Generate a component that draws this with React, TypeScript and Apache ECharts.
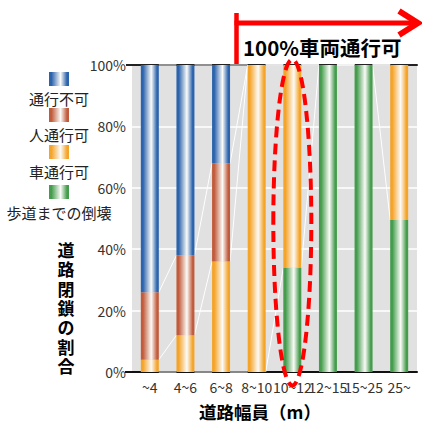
import React, { useEffect, useRef } from "react";
import * as echarts from "echarts";

const categories = ["~4", "4~6", "6~8", "8~10", "10~12", "12~15", "15~25", "25~"];
const collapseToSidewalk = [0, 0, 0, 0, 34, 100, 100, 49.5]; // 歩道までの倒壊
const vehiclePassable = [4, 12, 36, 100, 66, 0, 0, 50.5]; // 車通行可
const pedestrianPassable = [22, 26, 32, 0, 0, 0, 0, 0]; // 人通行可
const impassable = [74, 62, 32, 0, 0, 0, 0, 0]; // 通行不可
const yTicks = [0, 20, 40, 60, 80, 100];

const seriesNames = ["歩道までの倒壊", "車通行可", "人通行可", "通行不可"];
const seriesValues = [collapseToSidewalk, vehiclePassable, pedestrianPassable, impassable];
const seriesColors = ["#449c4c", "#f5a42a", "#c15b3b", "#2b63ac"];

const FONT = '"Noto Sans CJK JP", "Noto Sans", sans-serif';
const TIGHT_FONT = '"Liberation Sans", "Noto Sans CJK JP", sans-serif';

function grad(c: string) {
  return new echarts.graphic.LinearGradient(0, 0, 1, 0, [
    { offset: 0, color: c },
    { offset: 0.12, color: c },
    { offset: 0.58, color: "#fbfbf8" },
    { offset: 0.9, color: c },
    { offset: 1, color: c },
  ]);
}

export default function App() {
  const ref = useRef<HTMLDivElement>(null);
  useEffect(() => {
    if (!ref.current) return;
    const chart = echarts.init(ref.current, null, { renderer: "svg" });

    // cumulative tops for series lines
    const cum: number[][] = [];
    seriesValues.forEach((vals, s) => {
      cum.push(vals.map((v, i) => (s > 0 ? cum[s - 1][i] : 0) + v));
    });
    const lineData: number[][] = [];
    cum.forEach((c) => {
      for (let i = 0; i < c.length - 1; i++) lineData.push([i, c[i], c[i + 1]]);
    });

    const barWidth = 18;

    const series: any[] = seriesNames.map((name, s) => ({
      name,
      type: "bar",
      stack: "total",
      barWidth,
      data: seriesValues[s],
      itemStyle: { color: grad(seriesColors[s]) },
      z: 3,
    }));
    series.push({
      type: "custom",
      data: lineData,
      z: 2,
      silent: true,
      renderItem: (_p: any, api: any) => {
        const i = api.value(0);
        const a = api.coord([i, api.value(1)]);
        const b = api.coord([i + 1, api.value(2)]);
        return {
          type: "line",
          shape: { x1: a[0] + barWidth / 2, y1: a[1], x2: b[0] - barWidth / 2, y2: b[1] },
          style: { stroke: "#ffffff", lineWidth: 1 },
        };
      },
    });

    const legendOrder = [3, 2, 1, 0];
    const legendIconY = [72, 108, 145, 185];
    const legendTextY = [98, 134, 171, 212];
    const legendGraphics: any[] = [];
    legendOrder.forEach((s, k) => {
      legendGraphics.push({
        type: "rect",
        shape: { x: 49, y: legendIconY[k], width: 20, height: 14 },
        style: { fill: grad(seriesColors[s]) },
      });
      legendGraphics.push({
        type: "text",
        x: 59,
        y: legendTextY[k],
        style: {
          text: seriesNames[s],
          fontSize: 15,
          fontFamily: FONT,
          fill: "#222",
          align: "center",
          verticalAlign: "middle",
        },
      });
    });

    const option: any = {
      animation: false,
      textStyle: { fontFamily: FONT },
      grid: {
        left: 132,
        right: 5,
        top: 65,
        bottom: 51,
        show: true,
        backgroundColor: "#e1e1e1",
        borderWidth: 0,
      },
      xAxis: [
        {
          type: "category",
          data: categories,
          axisLine: { show: true, lineStyle: { color: "#111", width: 2 } },
          axisTick: { show: false },
          axisLabel: { interval: 0, fontSize: 14, color: "#333", margin: 8, fontFamily: FONT },
        },
        {
          type: "category",
          position: "top",
          data: categories,
          axisLine: { show: true, lineStyle: { color: "#222", width: 2 } },
          axisTick: { show: false },
          axisLabel: { show: false },
        },
      ],
      yAxis: {
        type: "value",
        min: 0,
        max: 100,
        interval: 20,
        axisLine: { show: false },
        axisTick: { show: false },
        splitLine: { show: true, lineStyle: { color: "#ffffff", width: 1.5 } },
        axisLabel: {
          formatter: (v: number) => (yTicks.includes(v) ? v + "%" : ""),
          fontSize: 14,
          color: "#333",
          margin: 6,
          fontFamily: FONT,
        },
      },
      series,
      graphic: [],
    };
    chart.setOption(option);

    const cx = chart.convertToPixel({ xAxisIndex: 0 }, categories[4]) as number;
    const yTop = chart.convertToPixel({ yAxisIndex: 0 }, 100) as number;
    const yBot = chart.convertToPixel({ yAxisIndex: 0 }, 0) as number;
    const yMid = (yTop + yBot) / 2;

    const yTitleChars = "道路閉鎖の割合".split("");
    const yTitleGraphics = yTitleChars.map((ch, k) => ({
      type: "text",
      x: 66,
      y: 251.5 + k * 19.3,
      style: {
        text: ch,
        fontSize: 17,
        lineHeight: 19,
        fontWeight: "bold",
        fontFamily: TIGHT_FONT,
        fill: "#000",
        align: "center",
        verticalAlign: "middle",
      },
    }));

    const graphics: any[] = [
      ...legendGraphics,
      ...yTitleGraphics,
      { type: "line", shape: { x1: 126, y1: yTop, x2: 133, y2: yTop }, style: { stroke: "#222", lineWidth: 2 } },
      { type: "line", shape: { x1: 125, y1: yBot, x2: 133, y2: yBot }, style: { stroke: "#111", lineWidth: 2 } },
      {
        type: "text",
        x: 260,
        y: 411,
        style: {
          text: "道路幅員（m）",
          fontSize: 17.5,
          fontWeight: "bold",
          fontFamily: FONT,
          fill: "#000",
          align: "center",
          verticalAlign: "middle",
        },
      },
      { type: "line", shape: { x1: 236.5, y1: 13, x2: 236.5, y2: yTop }, style: { stroke: "#ff0000", lineWidth: 4.5 } },
      { type: "line", shape: { x1: 234.5, y1: 23, x2: 414, y2: 23 }, style: { stroke: "#ff0000", lineWidth: 5 } },
      {
        type: "polyline",
        shape: { points: [[399, 11], [418, 23], [399, 35]] },
        style: { stroke: "#ff0000", lineWidth: 6, fill: "none", lineJoin: "miter" },
      },
      {
        type: "text",
        x: 243,
        y: 47,
        style: {
          text: "100%車両通行可",
          fontSize: 20.5,
          fontWeight: "bold",
          fontFamily: FONT,
          fill: "#000",
          align: "left",
          verticalAlign: "middle",
        },
      },
      {
        type: "ellipse",
        z: 100,
        shape: { cx, cy: yMid + 4, rx: 19, ry: 163 },
        style: { stroke: "#ff0000", lineWidth: 4, lineDash: [11, 6], fill: "none" },
      },
    ];
    chart.setOption({ graphic: graphics });

    return () => chart.dispose();
  }, []);

  return (
    <div
      ref={ref}
      style={{ position: "fixed", left: 0, top: 0, width: 422, height: 423, background: "#fff" }}
    />
  );
}
